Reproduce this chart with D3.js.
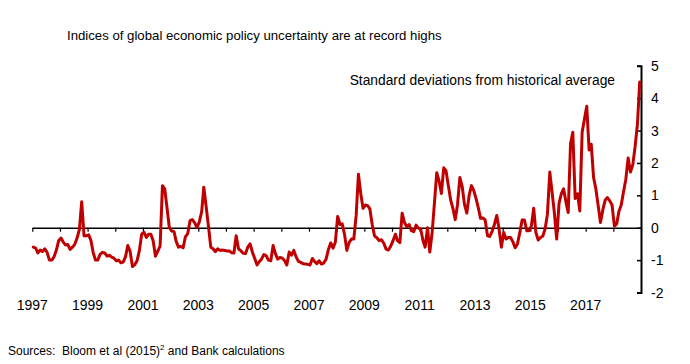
<!DOCTYPE html>
<html><head><meta charset="utf-8">
<script src="https://cdn.jsdelivr.net/npm/d3@7"></script>
<style>
body{margin:0;background:#fff}
svg{display:block}
text{font-family:"Liberation Sans",Arial,Helvetica,sans-serif;fill:#000;white-space:pre}
</style>
</head><body>
<svg id="chart" width="690" height="364"></svg>
<script>
// Monthly index, standard deviations from historical average (Jan 1997 onwards)
const startYear = 1997;
const values1997to2001 = [
  -0.60,-0.63,-0.78,-0.69,-0.73,-0.65,-0.76,-1.00,-1.00,-0.90,-0.69,-0.40,
  -0.32,-0.45,-0.53,-0.52,-0.67,-0.60,-0.52,-0.32,-0.05,0.80,-0.25,-0.25,
  -0.22,-0.40,-0.76,-1.00,-1.00,-0.82,-0.76,-0.78,-0.88,-0.85,-0.91,-0.94,
  -1.02,-1.00,-1.08,-1.06,-0.90,-0.55,-0.73,-1.20,-1.14,-1.02,-0.70,-0.20,
  -0.14,-0.30,-0.20,-0.20,-0.40,-0.88,-0.72,-0.57,1.30,1.20,0.60,0.00
];
const values2002to2006 = [
  -0.10,-0.12,-0.42,-0.60,-0.58,-0.62,-0.28,-0.18,0.22,0.25,0.15,0.00,
  0.18,0.50,1.25,0.65,0.05,-0.60,-0.65,-0.74,-0.65,-0.70,-0.69,-0.70,
  -0.72,-0.72,-0.77,-0.78,-0.25,-0.65,-0.71,-0.79,-0.80,-0.60,-0.50,-0.75,
  -0.95,-1.15,-1.05,-0.97,-0.83,-0.86,-1.00,-1.02,-0.55,-0.80,-0.97,-0.92,
  -0.94,-1.02,-1.15,-0.75,-0.85,-0.70,-0.90,-1.04,-1.07,-1.11,-1.12,-1.13
];
const values2007to2011 = [
  -1.15,-0.95,-1.04,-1.11,-1.02,-1.12,-1.09,-0.97,-0.67,-0.47,-0.63,-0.45,
  0.35,0.10,0.12,-0.21,-0.70,-0.45,-0.35,-0.35,0.38,1.65,1.05,0.60,
  0.70,0.68,0.58,0.10,-0.25,-0.31,-0.40,-0.37,-0.48,-0.66,-0.69,-0.57,
  -0.40,-0.20,-0.40,-0.46,0.45,0.16,0.03,0.10,-0.09,-0.12,0.08,-0.01,
  -0.04,-0.40,-0.60,0.00,-0.75,-0.15,0.75,1.70,1.44,1.06,1.85,1.76
];
const values2012to2015 = [
  1.30,0.85,0.60,0.25,0.72,1.55,1.28,0.72,0.45,1.00,1.30,1.15,
  0.90,0.60,0.29,0.30,0.24,-0.25,-0.27,-0.11,0.11,0.38,-0.05,-0.60,
  -0.15,-0.35,-0.30,-0.30,-0.43,-0.62,-0.50,-0.15,0.24,0.24,-0.09,-0.09,
  0.06,0.60,-0.14,-0.38,-0.30,-0.26,-0.04,0.42,1.72,1.10,0.45,-0.35
];
const values2016to2018 = [
  0.75,1.05,1.20,0.80,0.47,2.60,2.95,0.90,1.05,0.52,2.95,3.35,
  3.75,2.40,2.58,1.55,1.20,0.68,0.16,0.55,0.85,0.93,0.83,0.70,
  0.05,0.12,0.50,0.70,1.10,1.50,2.15,1.72,1.95,2.50,3.20,4.50
];
const yTicks = [-2,-1,0,1,2,3,4,5];
const yearLabels = [1997,1999,2001,2003,2005,2007,2009,2011,2013,2015,2017];
const titleText = "Indices of global economic policy uncertainty are at record highs";
const unitText = "Standard deviations from historical average";

const values = [].concat(values1997to2001, values2002to2006, values2007to2011, values2012to2015, values2016to2018);
const data = values.map((v, i) => ({date: new Date(startYear, i, 15), value: v}));

const svg = d3.select("#chart");
const x = d3.scaleTime().domain([new Date(1997,0,1), new Date(2019,0,1)]).range([32.3, 641]);
const y = d3.scaleLinear().domain([-2,5]).range([292.5, 65.8]);

// zero line with yearly ticks
const xAxis = d3.axisBottom(x).ticks(d3.timeYear.every(1)).tickSize(4).tickSizeOuter(0).tickFormat("");
const gx = svg.append("g").attr("transform", `translate(0,${y(0)})`).call(xAxis);
gx.select(".domain").attr("stroke", "#000").attr("stroke-width", 1.4);
gx.selectAll(".tick line").attr("stroke", "#000").attr("stroke-width", 1.2);

// right-hand axis
const yAxis = d3.axisLeft(y).tickValues(yTicks).tickSize(4).tickSizeOuter(4).tickFormat("");
const gy = svg.append("g").attr("transform", "translate(641,0)").call(yAxis);
gy.select(".domain").attr("stroke", "#000").attr("stroke-width", 2);
gy.selectAll(".tick line").attr("stroke", "#000").attr("stroke-width", 1.5);

svg.append("g").selectAll("text").data(yTicks).join("text")
  .attr("x", 651).attr("y", d => y(d)).attr("dy", "0.36em")
  .attr("font-size", 14).text(d => d);

svg.append("g").selectAll("text").data(yearLabels).join("text")
  .attr("x", d => x(new Date(d,0,1))).attr("y", 310)
  .attr("text-anchor", "middle").attr("font-size", 14).text(d => d);

// series line
svg.append("path").datum(data)
  .attr("fill", "none").attr("stroke", "#c00000").attr("stroke-width", 3)
  .attr("stroke-linejoin", "round").attr("stroke-linecap", "round")
  .attr("d", d3.line().x(d => x(d.date)).y(d => y(d.value)));

// titles
svg.append("text").attr("x", 67).attr("y", 40).attr("font-size", 13.2).text(titleText);
svg.append("text").attr("x", 615).attr("y", 85).attr("text-anchor", "end").attr("font-size", 13.8).text(unitText);

const src = svg.append("text").attr("x", 8).attr("y", 355).attr("font-size", 12);
src.append("tspan").text("Sources:  Bloom et al (2015)");
src.append("tspan").attr("font-size", 8).attr("dy", -5).text("2");
src.append("tspan").attr("dy", 5).text(" and Bank calculations");
</script>
</body></html>
